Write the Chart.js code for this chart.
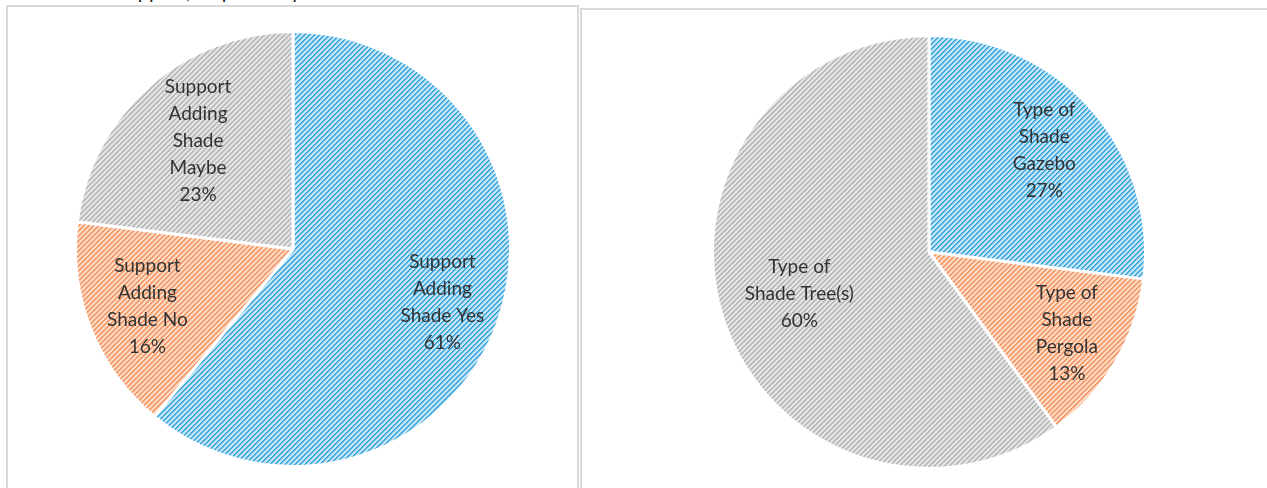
<!DOCTYPE html>
<html>
<head>
<meta charset="utf-8">
<script src="https://cdn.jsdelivr.net/npm/chart.js@4"></script>
<style>
  body { margin: 0; width: 1267px; height: 488px; overflow: hidden; background: #fff; position: relative; font-family: Lato, "Open Sans", sans-serif; }
  .frame { position: absolute; border: 2px solid #d9d9d9; box-sizing: border-box; }
  .pie { position: absolute; }
  #cut-text { position: absolute; left: 116px; top: -21px; font-size: 20px; color: #222; white-space: nowrap; }
</style>
</head>
<body>
<div id="cut-text">Support, respectively</div>
<div class="frame" style="left:6px; top:5px; width:573px; height:500px;"></div>
<div class="frame" style="left:580px; top:8px; width:700px; height:500px;"></div>
<div class="pie" style="left:74px; top:30px; width:438px; height:438px;"><canvas id="support-chart"></canvas></div>
<div class="pie" style="left:711px; top:34px; width:436px; height:436px;"><canvas id="type-chart"></canvas></div>
<script>
// left pie: do people support adding shade
const supportCategories = [
  ['Support', 'Adding', 'Shade Yes'],
  ['Support', 'Adding', 'Shade No'],
  ['Support', 'Adding', 'Shade', 'Maybe']
];
const supportValues = [61, 16, 23];

// right pie: preferred type of shade
const typeCategories = [
  ['Type of', 'Shade', 'Gazebo'],
  ['Type of', 'Shade', 'Pergola'],
  ['Type of', 'Shade Tree(s)']
];
const typeValues = [27, 13, 60];

// stripe colour / background colour for each slice
const hatchColors = [
  ['#2a9fd9', '#c6e5f6'],
  ['#f38c52', '#fddbc7'],
  ['#b0b0b0', '#e4e4e4']
];

function makeHatch(line, bg) {
  const c = document.createElement('canvas');
  c.width = 5; c.height = 5;
  const g = c.getContext('2d');
  g.fillStyle = bg;
  g.fillRect(0, 0, 5, 5);
  g.fillStyle = line;
  for (let i = 0; i < 5; i++) {
    g.globalAlpha = 1;
    g.fillRect(i, 4 - i, 1, 1);
    g.globalAlpha = 0.7;
    g.fillRect((i + 1) % 5, 4 - i, 1, 1);
    g.globalAlpha = 0.15;
    g.fillRect((i + 2) % 5, 4 - i, 1, 1);
  }
  return g.createPattern(c, 'repeat');
}

const patterns = hatchColors.map(hc => makeHatch(hc[0], hc[1]));

// draws the multi line category + percent inside each slice
const sliceLabels = {
  id: 'sliceLabels',
  afterDatasetsDraw(chart, args, opts) {
    const ctx = chart.ctx;
    const meta = chart.getDatasetMeta(0);
    const values = chart.data.datasets[0].data;
    ctx.save();
    ctx.font = '19px Lato, "Open Sans", sans-serif';
    ctx.fillStyle = '#333333';
    ctx.textAlign = 'center';
    ctx.textBaseline = 'middle';
    meta.data.forEach((arc, i) => {
      const p = arc.getProps(['x', 'y', 'startAngle', 'endAngle', 'outerRadius'], true);
      const mid = (p.startAngle + p.endAngle) / 2;
      const r = p.outerRadius * opts.radius[i];
      const cx = p.x + Math.cos(mid) * r;
      const cy = p.y + Math.sin(mid) * r;
      const lines = chart.data.labels[i].concat([values[i] + '%']);
      const lh = 27;
      const top = cy - (lines.length - 1) * lh / 2;
      lines.forEach((t, k) => ctx.fillText(t, cx, top + k * lh));
    });
    ctx.restore();
  }
};

function drawPie(id, categories, values, radius) {
  new Chart(document.getElementById(id), {
    type: 'pie',
    data: {
      labels: categories,
      datasets: [{
        data: values,
        backgroundColor: patterns,
        borderColor: '#ffffff',
        borderWidth: 3
      }]
    },
    options: {
      responsive: true,
      maintainAspectRatio: false,
      animation: false,
      layout: { padding: 0 },
      plugins: {
        legend: { display: false },
        tooltip: { enabled: false },
        sliceLabels: { radius: radius }
      }
    },
    plugins: [sliceLabels]
  });
}

drawPie('support-chart', supportCategories, supportValues, [0.73, 0.72, 0.66]);
drawPie('type-chart', typeCategories, typeValues, [0.71, 0.74, 0.63]);
</script>
</body>
</html>
